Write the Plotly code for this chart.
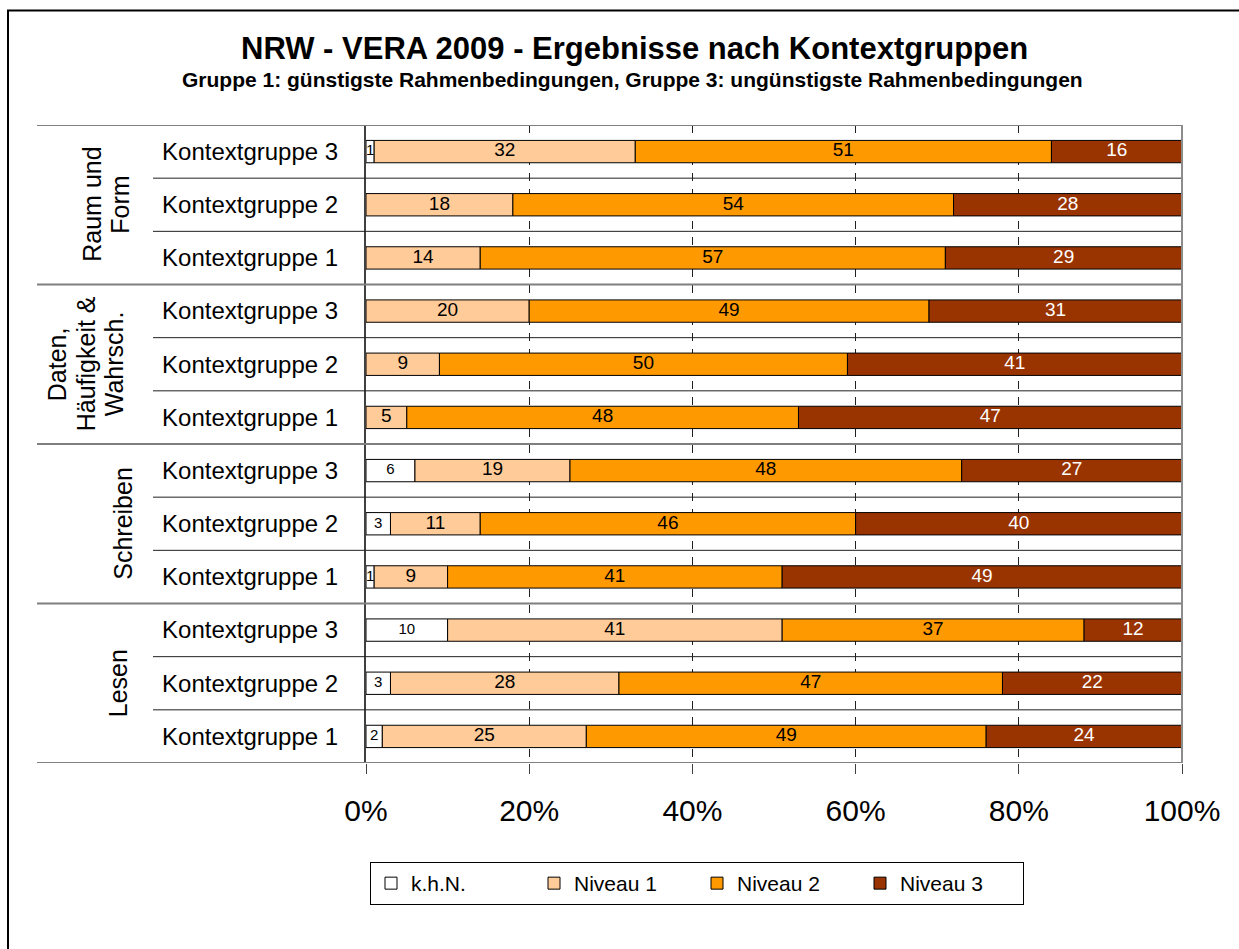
import plotly.graph_objects as go

# ---- data ----
groups = ["Raum und<br>Form", "Daten,<br>Häufigkeit &<br>Wahrsch.", "Schreiben", "Lesen"]
row_labels = ["Kontextgruppe 3", "Kontextgruppe 2", "Kontextgruppe 1"] * 4  # top to bottom
series_names = ["k.h.N.", "Niveau 1", "Niveau 2", "Niveau 3"]
khn = [1, 0, 0, 0, 0, 0, 6, 3, 1, 10, 3, 2]
niveau1 = [32, 18, 14, 20, 9, 5, 19, 11, 9, 41, 28, 25]
niveau2 = [51, 54, 57, 49, 50, 48, 48, 46, 41, 37, 47, 49]
niveau3 = [16, 28, 29, 31, 41, 47, 27, 40, 49, 12, 22, 24]
x_ticks = [0, 20, 40, 60, 80, 100]
x_ticktext = ["0%", "20%", "40%", "60%", "80%", "100%"]

series = [khn, niveau1, niveau2, niveau3]
colors = ["#FFFFFF", "#FFCC99", "#FF9900", "#993300"]
text_colors = ["black", "black", "black", "white"]
text_sizes = [15, 19, 19, 19]

n = len(row_labels)
ypos = [n - 1 - i for i in range(n)]  # top row gets highest y

FONT = "Liberation Sans, Arial, sans-serif"

fig = go.Figure()
base = [0] * n
for name, vals, col, tcol, tsz in zip(series_names, series, colors, text_colors, text_sizes):
    fig.add_trace(go.Bar(
        y=ypos, x=vals, base=base, orientation="h", name=name,
        marker=dict(color=col, line=dict(color="black", width=1)),
        width=0.42,
    ))
    cx = [b + v / 2 for b, v in zip(base, vals)]
    txt = [str(v) if v > 0 else "" for v in vals]
    fig.add_trace(go.Scatter(
        x=cx, y=ypos, mode="text", text=txt, showlegend=False, hoverinfo="skip",
        textfont=dict(family=FONT, size=tsz, color=tcol), cliponaxis=False,
    ))
    base = [b + v for b, v in zip(base, vals)]

L, R, T, B = 366, 57, 125, 186
W, H = 1239, 949
pw = W - L - R
ph = H - T - B

def px2x(px):
    return (px - L) / pw

def px2y(py):
    return (H - B - py) / ph

shapes = []
# row and group separator lines
for k in range(n + 1):
    yb = k - 0.5
    is_group = (k % 3 == 0)
    shapes.append(dict(
        type="line", xref="paper", yref="y",
        x0=px2x(37 if is_group else 153), x1=1, y0=yb, y1=yb,
        line=dict(color="#7f7f7f" if is_group else "#202020", width=2 if is_group else 1),
        layer="above",
    ))
# right plot border
shapes.append(dict(type="line", xref="paper", yref="paper", x0=1, x1=1, y0=0, y1=1,
                   line=dict(color="#8c8c8c", width=2), layer="above"))
# outer chart border
shapes.append(dict(type="rect", xref="paper", yref="paper",
                   x0=px2x(8), x1=px2x(1250), y0=px2y(960), y1=px2y(10.5),
                   line=dict(color="black", width=2), fillcolor="rgba(0,0,0,0)"))

annotations = []
# group labels (rotated), one annotation per line
group_line_x = [[92, 120], [57, 86, 114], [123], [118]]
for g, (gname, gxs) in enumerate(zip(groups, group_line_x)):
    yc = n - 1 - (3 * g + 1)
    for line_text, gx in zip(gname.split("<br>"), gxs):
        annotations.append(dict(
            text=line_text, x=px2x(gx), xref="paper", y=yc, yref="y",
            textangle=-90, showarrow=False, xanchor="center", yanchor="middle",
            font=dict(family=FONT, size=25, color="black"),
        ))
# title and subtitle
annotations.append(dict(
    text="<b>NRW - VERA 2009 - Ergebnisse nach Kontextgruppen</b>",
    x=px2x(634), xref="paper", y=px2y(48), yref="paper",
    showarrow=False, xanchor="center", yanchor="middle",
    font=dict(family=FONT, size=31, color="black"),
))
annotations.append(dict(
    text="<b>Gruppe 1: günstigste Rahmenbedingungen, Gruppe 3: ungünstigste Rahmenbedingungen</b>",
    x=px2x(632), xref="paper", y=px2y(80), yref="paper",
    showarrow=False, xanchor="center", yanchor="middle",
    font=dict(family=FONT, size=21, color="black"),
))

fig.update_layout(
    width=W, height=H,
    margin=dict(l=L, r=R, t=T, b=B, autoexpand=False),
    paper_bgcolor="white", plot_bgcolor="white",
    barmode="overlay",
    font=dict(family=FONT, color="black"),
    showlegend=True,
    legend=dict(
        orientation="h", x=px2x(370), xanchor="left",
        y=px2y(862), yanchor="top",
        bordercolor="black", borderwidth=1, bgcolor="white",
        font=dict(family=FONT, size=21, color="black"),
        entrywidth=118, entrywidthmode="pixels", itemwidth=30,
        traceorder="normal",
    ),
    shapes=shapes, annotations=annotations,
)
fig.update_xaxes(
    range=[0, 100], tickvals=x_ticks, ticktext=x_ticktext,
    tickfont=dict(family=FONT, size=30, color="black"),
    ticks="outside", ticklen=10, tickcolor="#404040",
    showgrid=True, griddash="8px,8px", gridcolor="#202020", gridwidth=1,
    zeroline=False, showline=False, ticklabelstandoff=11, fixedrange=True,
)
fig.update_yaxes(
    range=[-0.5, n - 0.5], tickvals=ypos, ticktext=row_labels,
    tickfont=dict(family=FONT, size=24, color="black"),
    ticks="", showgrid=False, zeroline=False,
    showline=True, linecolor="#404040", linewidth=2,
    ticklabelstandoff=21, fixedrange=True,
)

fig.write_html("out.html", config={"displayModeBar": False},
               post_script="document.body.style.margin='0';")
